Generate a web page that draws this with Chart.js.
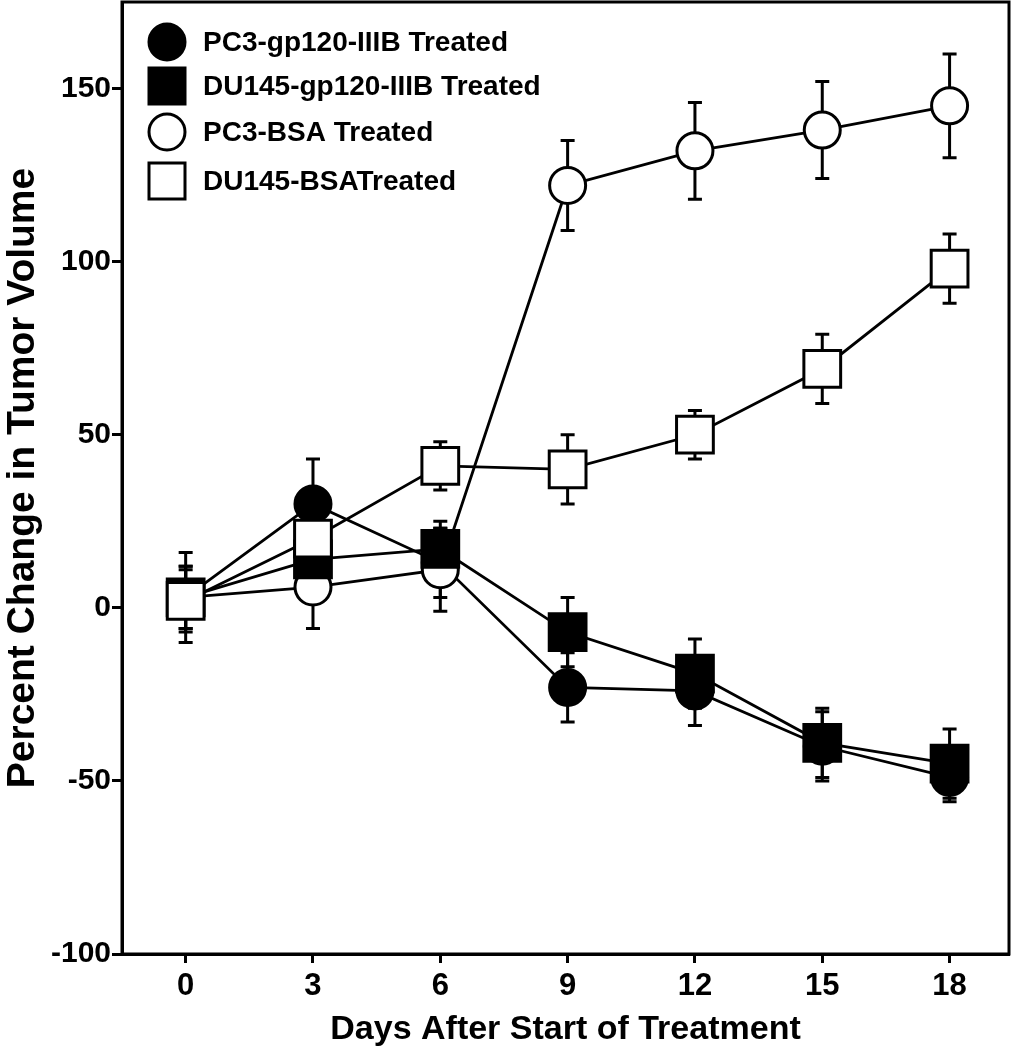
<!DOCTYPE html>
<html>
<head>
<meta charset="utf-8">
<script src="https://cdn.jsdelivr.net/npm/chart.js@4/dist/chart.umd.min.js"></script>
<style>
  html, body { margin: 0; padding: 0; background: #fff; }
  #wrap { width: 1012px; height: 1050px; position: relative; }
</style>
</head>
<body>
<div id="wrap"><canvas id="c"></canvas></div>
<script>
// ---- data ----
const days = [0, 3, 6, 9, 12, 15, 18];
const xTicks = [0, 3, 6, 9, 12, 15, 18];
const yTicks = [-100, -50, 0, 50, 100, 150];

const seriesNames = ["PC3-gp120-IIIB Treated", "DU145-gp120-IIIB Treated", "PC3-BSA Treated", "DU145-BSATreated"];

const pc3Gp120 = [3, 30, 13, -23, -24, -40, -49];
const du145Gp120 = [3, 14, 17, -7, -19, -39, -45];
const pc3Bsa = [3, 6, 11, 122, 132, 138, 145];
const du145Bsa = [2, 20, 41, 40, 50, 69, 98];

const pc3Gp120Err = [9, 13, 10, 10, 10, 10, 7];
const du145Gp120Err = [9, 10, 8, 10, 10, 10, 10];
const pc3BsaErr = [13, 12, 12, 13, 14, 14, 15];
const du145BsaErr = [9, 8, 7, 10, 7, 10, 10];

const xTitle = "Days After Start of Treatment";
const yTitle = "Percent Change in Tumor Volume";

// ---- build ----
function pts(vals) { return days.map((d, i) => ({ x: d, y: vals[i] })); }

const FONT = "'Liberation Sans', Arial, sans-serif";
const styles = [
  { style: 'circle', fill: '#000', radius: 18 },
  { style: 'rect', fill: '#000', radius: 26 },
  { style: 'circle', fill: '#fff', radius: 18 },
  { style: 'rect', fill: '#fff', radius: 26 }
];
const values = [pc3Gp120, du145Gp120, pc3Bsa, du145Bsa];
const errors = [pc3Gp120Err, du145Gp120Err, pc3BsaErr, du145BsaErr];
const drawOrder = [4, 2, 3, 1]; // higher order drawn first in Chart.js

const datasets = values.map((v, i) => ({
  label: seriesNames[i],
  data: pts(v),
  errors: errors[i],
  borderColor: '#000',
  borderWidth: 2.8,
  pointStyle: styles[i].style,
  pointRadius: styles[i].radius,
  pointBackgroundColor: styles[i].fill,
  pointBorderColor: '#000',
  pointBorderWidth: 3,
  fill: false,
  tension: 0,
  clip: false,
  order: drawOrder[i]
}));

const errorBarPlugin = {
  id: 'errorBars',
  beforeDatasetsDraw(chart) {
    const ctx = chart.ctx;
    const xs = chart.scales.x, ys = chart.scales.y;
    ctx.save();
    ctx.strokeStyle = '#000';
    ctx.lineWidth = 3;
    chart.data.datasets.forEach(ds => {
      ds.data.forEach((p, i) => {
        const e = ds.errors[i];
        const px = xs.getPixelForValue(p.x);
        const yTop = ys.getPixelForValue(p.y + e);
        const yBot = ys.getPixelForValue(p.y - e);
        ctx.beginPath();
        ctx.moveTo(px, yTop); ctx.lineTo(px, yBot);
        ctx.moveTo(px - 7, yTop); ctx.lineTo(px + 7, yTop);
        ctx.moveTo(px - 7, yBot); ctx.lineTo(px + 7, yBot);
        ctx.stroke();
      });
    });
    ctx.restore();
  }
};

const frameLegendPlugin = {
  id: 'frameLegend',
  afterDraw(chart) {
    const ctx = chart.ctx;
    const a = chart.chartArea;
    ctx.save();
    ctx.strokeStyle = '#000';
    ctx.lineWidth = 3;
    ctx.strokeRect(a.left, a.top, a.right - a.left, a.bottom - a.top);
    // legend
    const rows = [42, 86, 132, 181];
    const mx = 167, tx = 203;
    ctx.font = "bold 28px " + FONT;
    ctx.textBaseline = 'middle';
    ctx.fillStyle = '#000';
    chart.data.datasets.forEach((ds, i) => {
      const y = rows[i];
      ctx.lineWidth = 3;
      ctx.beginPath();
      if (ds.pointStyle === 'circle') {
        ctx.arc(mx, y, 18, 0, Math.PI * 2);
      } else {
        ctx.rect(mx - 18, y - 18, 36, 36);
      }
      ctx.fillStyle = ds.pointBackgroundColor;
      ctx.fill();
      ctx.stroke();
      ctx.fillStyle = '#000';
      ctx.fillText(ds.label, tx, y + 1);
    });
    ctx.restore();
  }
};

function zeroPad(s) { s.paddingTop = 0; s.paddingBottom = 0; s.paddingLeft = 0; s.paddingRight = 0; }

new Chart(document.getElementById('c'), {
  type: 'line',
  data: { datasets },
  options: {
    responsive: true,
    maintainAspectRatio: false,
    animation: false,
    layout: { autoPadding: false, padding: { top: 2, right: 3, left: 0, bottom: 0 } },
    plugins: { legend: { display: false }, tooltip: { enabled: false } },
    scales: {
      x: {
        type: 'linear',
        min: -1.5, max: 19.4,
        afterBuildTicks: s => { s.ticks = xTicks.map(v => ({ value: v })); },
        afterFit: s => { s.height = 96; zeroPad(s); },
        grid: { drawOnChartArea: false, drawTicks: true, tickLength: 9, tickWidth: 3, tickColor: '#000' },
        border: { display: true, width: 3, color: '#000' },
        ticks: { color: '#000', font: { family: FONT, weight: 'bold', size: 31 }, padding: 5, maxRotation: 0 },
        title: { display: true, text: xTitle, color: '#000', font: { family: FONT, weight: 'bold', size: 34 }, padding: { top: 0, bottom: 0 } }
      },
      y: {
        type: 'linear',
        min: -100, max: 175,
        afterBuildTicks: s => { s.ticks = yTicks.map(v => ({ value: v })); },
        afterFit: s => { s.width = 122; zeroPad(s); },
        grid: { drawOnChartArea: false, drawTicks: true, tickLength: 10, tickWidth: 3, tickColor: '#000' },
        border: { display: true, width: 3, color: '#000' },
        ticks: { color: '#000', font: { family: FONT, weight: 'bold', size: 30 }, padding: 1 },
        title: { display: true, text: yTitle, color: '#000', font: { family: FONT, weight: 'bold', size: 39 }, padding: { top: 0, bottom: 0 } }
      }
    }
  },
  plugins: [errorBarPlugin, frameLegendPlugin]
});
</script>
</body>
</html>
